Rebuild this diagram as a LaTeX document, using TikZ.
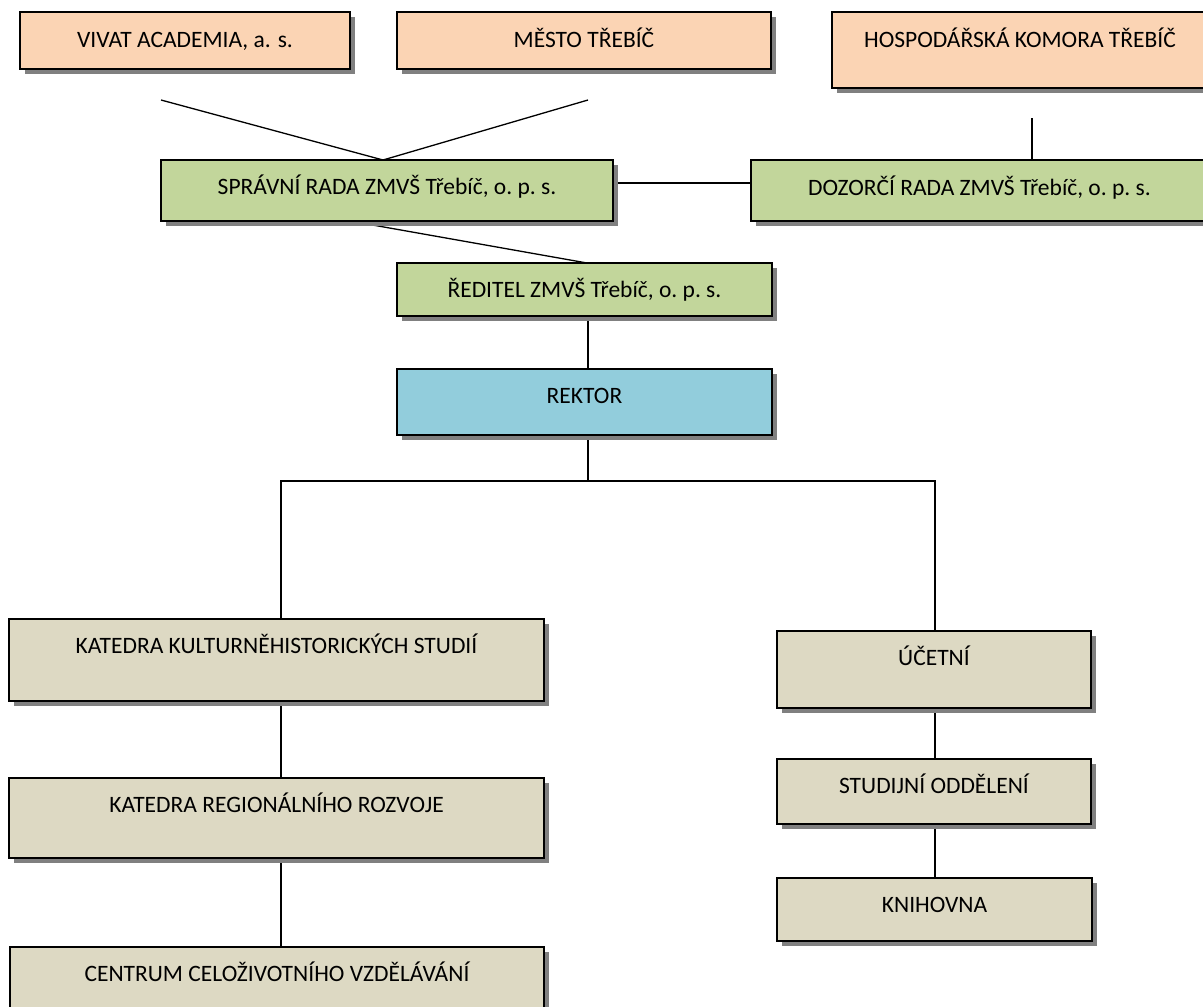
\documentclass[tikz,border=0pt]{standalone}
\usepackage{fontspec}
\setmainfont{Carlito}
\usetikzlibrary{shadows}
\pgfdeclarelayer{background}
\pgfdeclarelayer{canvas}
\pgfsetlayers{canvas,background,main}
\definecolor{peach}{HTML}{FBD4B4}
\definecolor{olive}{HTML}{C2D69B}
\definecolor{aqua}{HTML}{92CDDC}
\definecolor{tan}{HTML}{DDD9C3}
\definecolor{shadowgray}{HTML}{808080}
\tikzset{
  orgbox/.style={draw=black, line width=1.5pt, inner sep=0pt, outer sep=0pt,
    anchor=north, font=\fontsize{23.5}{28}\selectfont,
    drop shadow={shadow xshift=4.5pt, shadow yshift=-4.5pt, fill=shadowgray, opacity=1}},
  link/.style={draw=black, line width=1.3pt}
}
\begin{document}
\begin{tikzpicture}[x=1pt,y=-1pt]
\clip (0,0) rectangle (1203,1007);
\begin{pgfonlayer}{canvas}
\fill[white] (0,0) rectangle (1203,1007);
\end{pgfonlayer}
% top row
\node[orgbox, fill=peach, minimum width=330pt, text height=35pt, text depth=22pt] (vivat) at (185,12) {VIVAT ACADEMIA, a. s.};
\node[orgbox, fill=peach, minimum width=374pt, text height=35pt, text depth=22pt] (mesto) at (584,12) {MĚSTO TŘEBÍČ};
\node[orgbox, fill=peach, minimum width=376pt, text height=35pt, text depth=41pt] (hosp) at (1020,12) {HOSPODÁŘSKÁ KOMORA TŘEBÍČ};
% councils
\node[orgbox, fill=olive, minimum width=452pt, text height=34pt, text depth=27pt] (spravni) at (387,160) {SPRÁVNÍ RADA ZMVŠ Třebíč, o.\ p.\ s.};
\node[orgbox, fill=olive, minimum width=457pt, text height=35pt, text depth=26pt] (dozorci) at (979.5,160) {DOZORČÍ RADA ZMVŠ Třebíč, o.\ p.\ s.};
\node[orgbox, fill=olive, minimum width=375pt, text height=34pt, text depth=19pt] (reditel) at (584.5,263) {ŘEDITEL ZMVŠ Třebíč, o.\ p.\ s.};
\node[orgbox, fill=aqua, minimum width=375pt, text height=34pt, text depth=32pt] (rektor) at (584.5,369) {REKTOR};
% left column
\node[orgbox, fill=tan, minimum width=535pt, text height=34pt, text depth=48pt] (kat1) at (276.5,619) {KATEDRA KULTURNĚHISTORICKÝCH STUDIÍ};
\node[orgbox, fill=tan, minimum width=535pt, text height=34pt, text depth=46pt] (kat2) at (276.5,778) {KATEDRA REGIONÁLNÍHO ROZVOJE};
\node[orgbox, fill=tan, minimum width=534pt, text height=34pt, text depth=70pt] (centrum) at (277,947) {CENTRUM CELOŽIVOTNÍHO VZDĚLÁVÁNÍ};
% right column
\node[orgbox, fill=tan, minimum width=314pt, text height=34pt, text depth=43pt] (ucet) at (934,631) {ÚČETNÍ};
\node[orgbox, fill=tan, minimum width=314pt, text height=34pt, text depth=31pt] (stud) at (934,759) {STUDIJNÍ ODDĚLENÍ};
\node[orgbox, fill=tan, minimum width=315pt, text height=34pt, text depth=29pt] (knih) at (934.5,878) {KNIHOVNA};
% free ends
\coordinate (vfree) at (161,100);
\coordinate (mfree) at (588,100);
\coordinate (hfree) at (1032,118);
\coordinate (junction) at (588,481);
\begin{pgfonlayer}{background}
\draw[link] (vfree) -- ([xshift=-4pt]spravni.north);
\draw[link] (mfree) -- ([xshift=-4pt]spravni.north);
\draw[link] (hfree) -- (hfree |- dozorci.north);
\draw[link] ([yshift=7.5pt]spravni.east) -- ([yshift=7.5pt]dozorci.west);
\draw[link] ([xshift=-37pt]spravni.south) -- ([xshift=2.5pt]reditel.north);
\draw[link] ([xshift=3.5pt]reditel.south) -- ([xshift=3.5pt]rektor.north);
\draw[link] ([xshift=3.5pt]rektor.south) -- (junction);
\draw[link] ([xshift=4.5pt]kat1.north) |- (junction) -| ([xshift=1pt]ucet.north);
\draw[link] ([xshift=4.5pt]kat1.south) -- ([xshift=4.5pt]kat2.north);
\draw[link] ([xshift=4.5pt]kat2.south) -- ([xshift=4pt]centrum.north);
\draw[link] ([xshift=1pt]ucet.south) -- ([xshift=1pt]stud.north);
\draw[link] ([xshift=1pt]stud.south) -- ([xshift=0.5pt]knih.north);
\end{pgfonlayer}
\end{tikzpicture}
\end{document}
